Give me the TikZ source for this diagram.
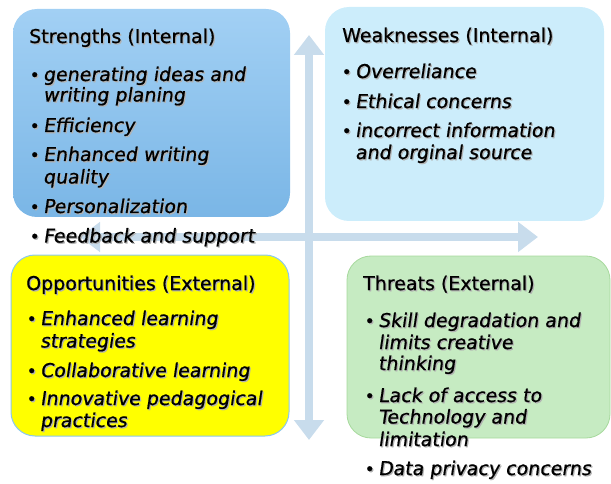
\documentclass[tikz,border=0pt]{standalone}
\usepackage{fontspec}
\setmainfont{DejaVu Sans}[FakeBold=0.7, ItalicFont={DejaVu Sans}, ItalicFeatures={FakeSlant=0.15}]
\usetikzlibrary{arrows.meta}

\definecolor{axisblue}{HTML}{C8DCEC}
\definecolor{strtop}{HTML}{A2D0F4}
\definecolor{strbot}{HTML}{7AB6E6}
\definecolor{weakfill}{HTML}{CCEDFB}
\definecolor{oppfill}{HTML}{FFFF00}
\definecolor{oppline}{HTML}{8CC8EE}
\definecolor{thrfill}{HTML}{C6EBC2}
\definecolor{thrline}{HTML}{A6D99C}

% text with a soft grey drop shadow
\newcommand\shadowtext[1]{\rlap{\kern1.2pt\raisebox{-1.2pt}{\textcolor{black!30}{#1}}}#1}
% bullet mark in a fixed-width slot
\newcommand\bulletmark{\makebox[13.5pt][l]{\fontsize{17}{20}\selectfont\upshape •}}

\tikzset{
  quadbox/.style={rounded corners=24pt, inner sep=0pt, outer sep=0pt},
  axis/.style={draw=axisblue, line width=8.5pt,
    arrows={Triangle[width=29pt,length=20pt]-Triangle[width=29pt,length=20pt]}},
  heading/.style={anchor=base west, inner sep=0pt, font=\fontsize{19}{22}\selectfont},
  entry/.style={anchor=base west, inner sep=0pt, font=\fontsize{19}{22}\selectfont\itshape},
}

\begin{document}
\begin{tikzpicture}[x=1pt,y=-1pt]
\useasboundingbox (0,0) rectangle (611,484);

% axes of the matrix
\coordinate (top) at (309,35);
\coordinate (bot) at (309,440);
\coordinate (lft) at (80,237);
\coordinate (rgt) at (538,237);
\draw[axis] (bot) -- (top);
\draw[axis] (lft) -- (rgt);

% the four quadrants
\node[quadbox, minimum width=277pt, minimum height=208pt,
      top color=strtop, bottom color=strbot] (S) at (151.5,113) {};
\node[quadbox, minimum width=279pt, minimum height=214pt,
      fill=weakfill] (W) at (464.5,114) {};
\node[quadbox, minimum width=278pt, minimum height=181pt,
      fill=oppfill, draw=oppline, line width=1pt] (O) at (150,345.5) {};
\node[quadbox, minimum width=263pt, minimum height=182pt,
      fill=thrfill, draw=thrline, line width=0.8pt] (T) at (478.5,347) {};

% Strengths
\node[heading] (s0) at (29,43) {\shadowtext{Strengths (Internal)}};
\node[entry] (s1) at (29.5,81) {\shadowtext{\bulletmark generating ideas and}};
\node[entry] (s1b) at (43,101.5) {\shadowtext{writing planing}};
\node[entry] (s2) at (29.5,132) {\shadowtext{\bulletmark Efficiency}};
\node[entry] (s3) at (29.5,161) {\shadowtext{\bulletmark Enhanced writing}};
\node[entry] (s3b) at (43,183.5) {\shadowtext{quality}};
\node[entry] (s4) at (29.5,213) {\shadowtext{\bulletmark Personalization}};
\node[entry] (s5) at (29.5,242.5) {\shadowtext{\bulletmark Feedback and support}};

% Weaknesses
\node[heading] (w0) at (342,42) {\shadowtext{Weaknesses (Internal)}};
\node[entry] (w1) at (341.5,78) {\shadowtext{\bulletmark Overreliance}};
\node[entry] (w2) at (341.5,108) {\shadowtext{\bulletmark Ethical concerns}};
\node[entry] (w3) at (341.5,137) {\shadowtext{\bulletmark incorrect information}};
\node[entry] (w3b) at (355,159) {\shadowtext{and orginal source}};

% Opportunities
\node[heading] (o0) at (26,290) {\shadowtext{Opportunities (External)}};
\node[entry] (o1) at (26.5,325) {\shadowtext{\bulletmark Enhanced learning}};
\node[entry] (o1b) at (40,347.5) {\shadowtext{strategies}};
\node[entry] (o2) at (26.5,377) {\shadowtext{\bulletmark Collaborative learning}};
\node[entry] (o3) at (26.5,405) {\shadowtext{\bulletmark Innovative pedagogical}};
\node[entry] (o3b) at (40,427) {\shadowtext{practices}};

% Threats
\node[heading] (t0) at (363,290) {\shadowtext{Threats (External)}};
\node[entry] (t1) at (364.5,327) {\shadowtext{\bulletmark Skill degradation and}};
\node[entry] (t1b) at (378,349) {\shadowtext{limits creative}};
\node[entry] (t1c) at (378,370) {\shadowtext{thinking}};
\node[entry] (t2) at (364.5,402) {\shadowtext{\bulletmark Lack of access to}};
\node[entry] (t2b) at (378,423.5) {\shadowtext{Technology and}};
\node[entry] (t2c) at (378,446) {\shadowtext{limitation}};
\node[entry] (t3) at (364.5,475) {\shadowtext{\bulletmark Data privacy concerns}};
\end{tikzpicture}
\end{document}
